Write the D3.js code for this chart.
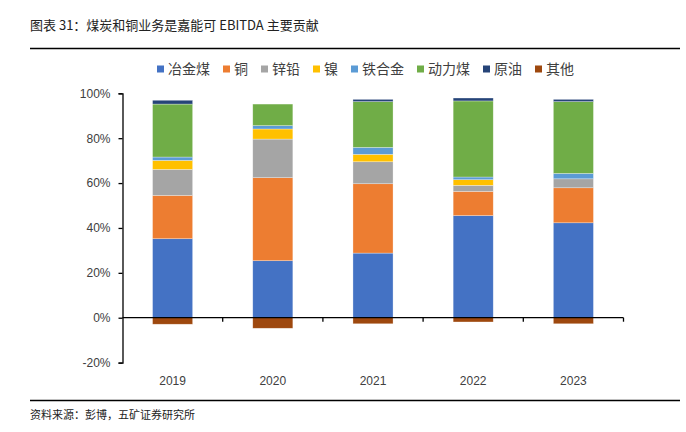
<!DOCTYPE html>
<html>
<head>
<meta charset="utf-8">
<script src="https://cdn.jsdelivr.net/npm/d3@7"></script>
<style>
  body { margin: 0; background: #fff; }
  svg { display: block; }
</style>
</head>
<body>
<div id="chart"></div>
<script>
// 数据（单位：%）
const years = ['2019', '2020', '2021', '2022', '2023']
const seriesNames = ['冶金煤', '铜', '锌铅', '镍', '铁合金', '动力煤', '原油', '其他']
const coking = [35.2, 25.4, 28.8, 45.5, 42.3]
const copper = [19.3, 37.0, 30.9, 10.8, 15.6]
const zincLead = [11.6, 17.2, 9.8, 2.7, 4.0]
const nickel = [4.0, 4.5, 3.3, 2.5, 0]
const ferroalloy = [1.5, 1.5, 3.1, 1.2, 2.4]
const thermal = [23.6, 9.6, 20.4, 33.9, 32.0]
const oil = [1.7, 0, 1.0, 1.3, 1.0]
const other = [-2.9, -4.7, -2.7, -1.9, -2.7]
const yTicks = [-20, 0, 20, 40, 60, 80, 100]

const colors = ['#4472C4', '#ED7D31', '#A5A5A5', '#FFC000', '#5B9BD5', '#70AD47', '#264478', '#9E480E']
const values = [coking, copper, zincLead, nickel, ferroalloy, thermal, oil, other]

// stack用のテーブル
const table = years.map((y, i) => {
  const row = { year: y }
  seriesNames.forEach((k, j) => { row[k] = values[j][i] })
  return row
})

const width = 686, height = 432
const cjk = '"Noto Sans CJK SC", "Noto Sans", sans-serif'
const num = '"Liberation Sans", Arial, sans-serif'

const svg = d3.select('#chart').append('svg')
  .attr('width', width)
  .attr('height', height)

// タイトル
svg.append('text')
  .attr('x', 30).attr('y', 30)
  .style('font-family', cjk).style('font-size', '13px').attr('fill', '#222')
  .text('图表 31：煤炭和铜业务是嘉能可 EBITDA 主要贡献')

svg.append('line')
  .attr('x1', 30).attr('x2', 680).attr('y1', 48.5).attr('y2', 48.5)
  .attr('stroke', '#000').attr('stroke-width', 1.5)

svg.append('line')
  .attr('x1', 30).attr('x2', 680).attr('y1', 400.5).attr('y2', 400.5)
  .attr('stroke', '#000').attr('stroke-width', 1.5)

svg.append('text')
  .attr('x', 30).attr('y', 419)
  .style('font-family', cjk).style('font-size', '11px').attr('fill', '#222')
  .text('资料来源：彭博，五矿证券研究所')

// スケール
const x = d3.scaleBand()
  .domain(years)
  .range([122.5, 623.5])
  .paddingInner(0.6)
  .paddingOuter(0.3)

const y = d3.scaleLinear()
  .domain([-20, 100])
  .range([362.6, 93.3])

const stack = d3.stack()
  .keys(seriesNames)
  .offset(d3.stackOffsetDiverging)
const stacked = stack(table)

svg.append('g').selectAll('g')
  .data(stacked)
  .enter()
  .append('g')
    .attr('fill', (d, i) => colors[i])
  .selectAll('rect')
  .data(d => d)
  .enter()
  .append('rect')
    .attr('x', d => x(d.data.year))
    .attr('width', x.bandwidth())
    .attr('y', d => y(Math.max(d[0], d[1])))
    .attr('height', d => Math.abs(y(d[0]) - y(d[1])))
    .attr('stroke', 'rgba(255,255,255,0.5)')
    .attr('stroke-width', 0.6)

// Y軸
const yAxis = d3.axisLeft(y)
  .tickValues(yTicks)
  .tickSize(4)
  .tickFormat(d => d + '%')

const gy = svg.append('g')
  .attr('transform', 'translate(122.5,0)')
  .call(yAxis)
gy.select('.domain').attr('stroke', '#000').attr('stroke-width', 1.3)
gy.selectAll('.tick line').attr('stroke', '#000').attr('stroke-width', 1.3)
gy.selectAll('.tick text')
  .attr('x', -12)
  .style('font-family', num).style('font-size', '12px').attr('fill', '#404040')

// X軸（0%の位置）
const gx = svg.append('g')
  .attr('transform', `translate(0,${y(0)})`)
gx.append('line')
  .attr('x1', 122.5).attr('x2', 623.5)
  .attr('stroke', '#000').attr('stroke-width', 1.3)
gx.selectAll('line.tk')
  .data(years)
  .enter()
  .append('line')
    .attr('class', 'tk')
    .attr('x1', d => x(d) + x.bandwidth() + x.step() * 0.3)
    .attr('x2', d => x(d) + x.bandwidth() + x.step() * 0.3)
    .attr('y1', 0).attr('y2', 4)
    .attr('stroke', '#000').attr('stroke-width', 1.3)

svg.append('g').selectAll('text')
  .data(years)
  .enter()
  .append('text')
    .attr('x', d => x(d) + x.bandwidth() / 2)
    .attr('y', 385)
    .attr('text-anchor', 'middle')
    .style('font-family', num).style('font-size', '12px').attr('fill', '#404040')
    .text(d => d)

// 凡例
const legend = svg.append('g')
let lx = 157
seriesNames.forEach((name, i) => {
  const g = legend.append('g').attr('transform', `translate(${lx},69)`)
  g.append('rect')
    .attr('x', 0).attr('y', -3.5).attr('width', 7).attr('height', 7)
    .attr('fill', colors[i])
  const t = g.append('text')
    .attr('x', 11).attr('y', 5)
    .style('font-family', cjk).style('font-size', '14px').attr('fill', '#404040')
    .text(name)
  lx += 11 + t.node().getComputedTextLength() + 13
})
</script>
</body>
</html>
